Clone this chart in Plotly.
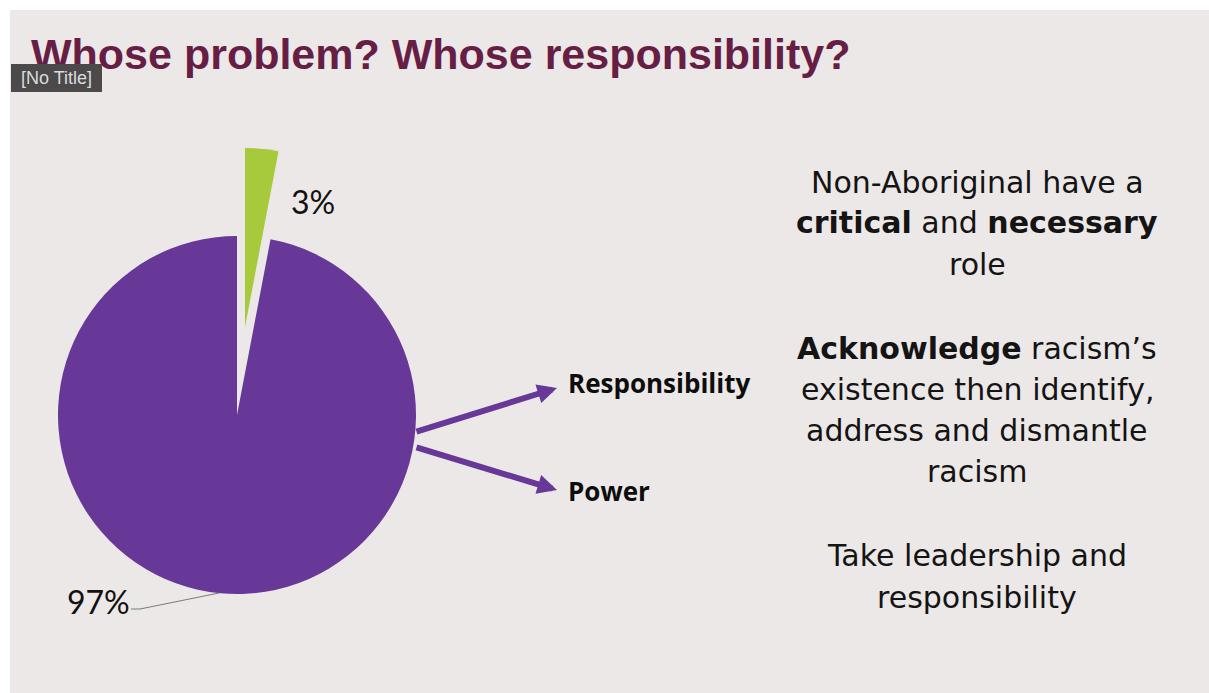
import plotly.graph_objects as go

# ---- data ----
slice_labels = ["Aboriginal", "Non-Aboriginal"]
slice_values = [3, 97]
slice_colors = ["#a6ca3b", "#673898"]
arrow_labels = ["Responsibility", "Power"]
title_text = "Whose problem? Whose responsibility?"
text_blocks = [
    ["Non-Aboriginal have a", "<b>critical</b> and <b>necessary</b>", "role"],
    ["<b>Acknowledge</b> racism\u2019s", "existence then identify,", "address and dismantle", "racism"],
    ["Take leadership and", "responsibility"],
]

W, H = 1209, 693
BG = "#ece8e7"
PURPLE = slice_colors[1]
CLEAR = "rgba(0,0,0,0)"


def px(x):
    return x / W


def py(y):
    return 1 - y / H


def dom(cx, cy, r):
    return dict(x=[px(cx - r), px(cx + r)], y=[py(cy + r), py(cy - r)])


fig = go.Figure()

R = 179
# main pie (large slice visible)
fig.add_trace(go.Pie(
    labels=slice_labels, values=slice_values, sort=False, direction="clockwise",
    rotation=0, marker=dict(colors=[CLEAR, slice_colors[1]], line=dict(width=0)),
    textinfo="none", hoverinfo="skip", showlegend=False, domain=dom(237, 415, R),
))
# exploded small slice
fig.add_trace(go.Pie(
    labels=slice_labels, values=slice_values, sort=False, direction="clockwise",
    rotation=0, marker=dict(colors=[slice_colors[0], CLEAR], line=dict(width=0)),
    textinfo="none", hoverinfo="skip", showlegend=False, domain=dom(245, 327, R),
))

shapes = [
    dict(type="rect", xref="paper", yref="paper", x0=px(10), x1=1, y0=0, y1=py(10),
         fillcolor=BG, line=dict(width=0), layer="below"),
    dict(type="path", xref="paper", yref="paper",
         path=f"M {px(131)} {py(609)} L {px(140)} {py(609)} L {px(219)} {py(593)}",
         line=dict(color="#7a7a7a", width=1)),
]

ann = []
# title
ann.append(dict(text=f"<b>{title_text}</b>", x=px(29), y=py(54), xref="paper", yref="paper",
                xanchor="left", yanchor="middle", showarrow=False,
                font=dict(family="Liberation Sans", size=43, color="#661e45")))
# percentage labels
ann.append(dict(text=f"{slice_values[0]}%", x=px(313), y=py(201), xref="paper", yref="paper",
                xanchor="center", yanchor="middle", showarrow=False,
                font=dict(family="Lato", size=32, color="#111111")))
ann.append(dict(text=f"{slice_values[1]}%", x=px(98), y=py(601), xref="paper", yref="paper",
                xanchor="center", yanchor="middle", showarrow=False,
                font=dict(family="Lato", size=32, color="#111111")))
# arrows
for tip, tail in [((557, 388), (415, 432)), ((557, 490), (415, 447))]:
    ann.append(dict(text="", x=px(tip[0]), y=py(tip[1]), xref="paper", yref="paper",
                    ax=tail[0] - tip[0], ay=tail[1] - tip[1], axref="pixel", ayref="pixel",
                    showarrow=True, arrowhead=2, arrowsize=0.65, arrowwidth=6,
                    arrowcolor=PURPLE, standoff=0, startstandoff=0))
for lab, y in zip(arrow_labels, [383, 491]):
    ann.append(dict(text=f"<b>{lab}</b>", x=px(566), y=py(y), xref="paper", yref="paper",
                    xanchor="left", yanchor="middle", showarrow=False,
                    font=dict(family="Open Sans", size=26, color="#0d0d0d")))
# right text
line_y = [[182, 223, 264], [348, 389, 430, 471], [555, 597]]
for block, ys in zip(text_blocks, line_y):
    for t, y in zip(block, ys):
        ann.append(dict(text=t, x=px(977), y=py(y), xref="paper", yref="paper",
                        xanchor="center", yanchor="middle", showarrow=False,
                        font=dict(family="DejaVu Sans", size=30, color="#141414")))
# tooltip box (on top of title)
ann.append(dict(text="[No Title]", x=px(11), y=py(64), xref="paper", yref="paper",
                xanchor="left", yanchor="top", showarrow=False, width=91, height=28,
                bgcolor="#4b494a", borderpad=0, borderwidth=0, align="center",
                font=dict(family="Liberation Sans", size=18, color="#dcdcdc")))

fig.update_layout(
    width=W, height=H, margin=dict(l=0, r=0, t=0, b=0),
    paper_bgcolor="white", plot_bgcolor="white",
    shapes=shapes, annotations=ann,
)
fig.write_html(
    "out.html",
    config={"displayModeBar": False},
    post_script="document.body.style.margin='0';document.body.style.overflow='hidden';",
)
